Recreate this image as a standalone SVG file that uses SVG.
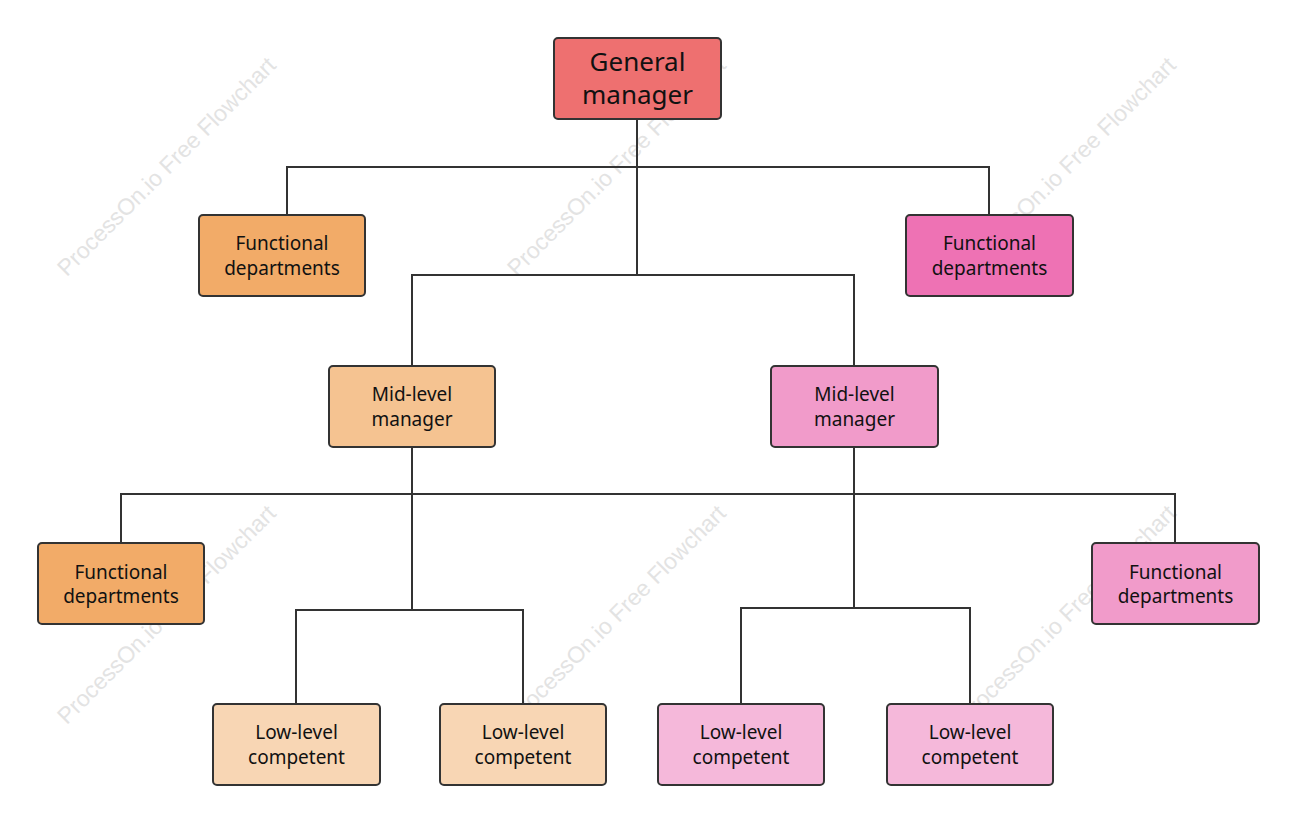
<svg xmlns="http://www.w3.org/2000/svg" width="1296" height="822" viewBox="0 0 1296 822">
<style>
.n{stroke:#333;stroke-width:2}
.t{font-family:"Noto Sans","Open Sans",sans-serif;font-size:19px;fill:#111;text-anchor:middle}
.w{font-family:"Liberation Sans",sans-serif;font-size:23px;fill:#e3e3e3;text-anchor:middle}
#c path{fill:none;stroke:#333;stroke-width:2}
</style>
<rect width="1296" height="822" fill="#fff"/>
<g id="wm">
<text class="w" transform="translate(172,172) rotate(-45)">ProcessOn.io Free Flowchart</text>
<text class="w" transform="translate(622,172) rotate(-45)">ProcessOn.io Free Flowchart</text>
<text class="w" transform="translate(1072,172) rotate(-45)">ProcessOn.io Free Flowchart</text>
<text class="w" transform="translate(172,620) rotate(-45)">ProcessOn.io Free Flowchart</text>
<text class="w" transform="translate(622,620) rotate(-45)">ProcessOn.io Free Flowchart</text>
<text class="w" transform="translate(1072,620) rotate(-45)">ProcessOn.io Free Flowchart</text>
</g>
<g id="c">
<path d="M637,119V275M287,215V167H989V215M412,366V275H854V366"/>
<path d="M412,447V610M121,543V494H1175V543M296,704V610H523V704"/>
<path d="M854,447V608M741,704V608H970V704"/>
</g>
<g id="gm"><rect class="n" x="554" y="38" width="167" height="81" rx="4" fill="#ee7070"/><text class="t" style="font-size:26px" x="637.5" y="71">General</text><text class="t" style="font-size:26px" x="637.5" y="104">manager</text></g>
<g id="fd1"><rect class="n" x="199" y="215" width="166" height="81" rx="4" fill="#f2ab68"/><text class="t" x="282" y="250">Functional</text><text class="t" x="282" y="275">departments</text></g>
<g id="fd2"><rect class="n" x="906" y="215" width="167" height="81" rx="4" fill="#ee72b4"/><text class="t" x="989.5" y="250">Functional</text><text class="t" x="989.5" y="275">departments</text></g>
<g id="mm1"><rect class="n" x="329" y="366" width="166" height="81" rx="4" fill="#f5c391"/><text class="t" x="412" y="401">Mid-level</text><text class="t" x="412" y="426">manager</text></g>
<g id="mm2"><rect class="n" x="771" y="366" width="167" height="81" rx="4" fill="#f19bca"/><text class="t" x="854.5" y="401">Mid-level</text><text class="t" x="854.5" y="426">manager</text></g>
<g id="fd3"><rect class="n" x="38" y="543" width="166" height="81" rx="4" fill="#f2ab68"/><text class="t" x="121" y="579">Functional</text><text class="t" x="121" y="603">departments</text></g>
<g id="fd4"><rect class="n" x="1092" y="543" width="167" height="81" rx="4" fill="#f19bca"/><text class="t" x="1175.5" y="579">Functional</text><text class="t" x="1175.5" y="603">departments</text></g>
<g id="l1"><rect class="n" x="213" y="704" width="167" height="81" rx="4" fill="#f8d6b4"/><text class="t" x="296.5" y="739">Low-level</text><text class="t" x="296.5" y="764">competent</text></g>
<g id="l2"><rect class="n" x="440" y="704" width="166" height="81" rx="4" fill="#f8d6b4"/><text class="t" x="523" y="739">Low-level</text><text class="t" x="523" y="764">competent</text></g>
<g id="l3"><rect class="n" x="658" y="704" width="166" height="81" rx="4" fill="#f5b8da"/><text class="t" x="741" y="739">Low-level</text><text class="t" x="741" y="764">competent</text></g>
<g id="l4"><rect class="n" x="887" y="704" width="166" height="81" rx="4" fill="#f5b8da"/><text class="t" x="970" y="739">Low-level</text><text class="t" x="970" y="764">competent</text></g>
</svg>
